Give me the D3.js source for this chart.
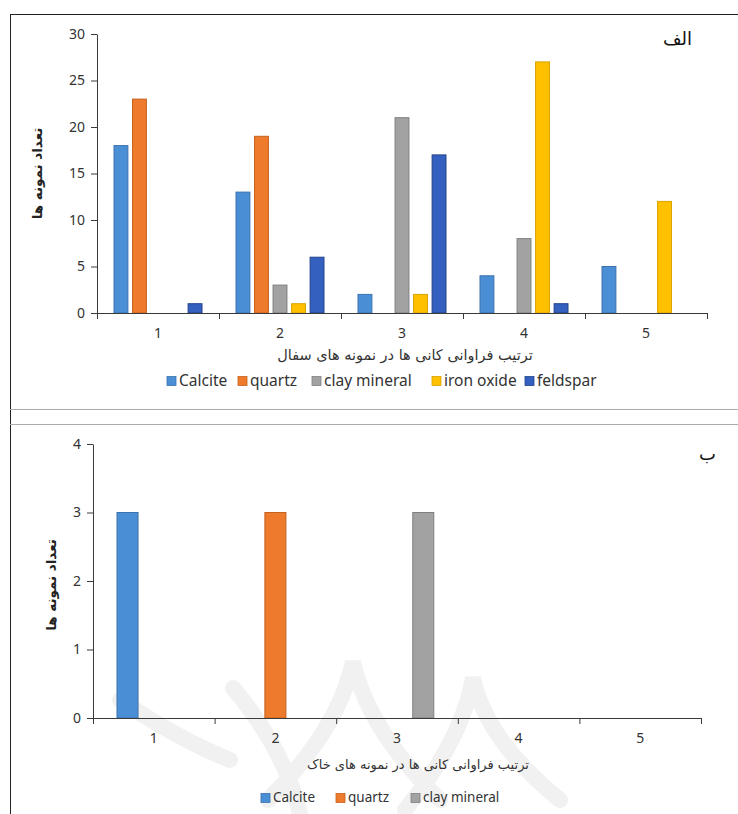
<!DOCTYPE html>
<html>
<head>
<meta charset="utf-8">
<script src="https://cdn.jsdelivr.net/npm/d3@7"></script>
<style>
  html, body { margin: 0; padding: 0; background: #fff; }
  svg { display: block; }
</style>
</head>
<body>
<svg id="chart" width="738" height="814"></svg>
<script>
// ---------- data ----------
const categories = ["1", "2", "3", "4", "5"];

// Panel الف (pottery samples)
const seriesTop = ["Calcite", "quartz", "clay mineral", "iron oxide", "feldspar"];
const calciteTop = [18, 13, 2, 4, 5];
const quartzTop = [23, 19, 0, 0, 0];
const clayTop = [0, 3, 21, 8, 0];
const ironTop = [0, 1, 2, 27, 12];
const feldsparTop = [1, 6, 17, 1, 0];
const yTicksTop = [0, 5, 10, 15, 20, 25, 30];

// Panel ب (soil samples)
const seriesBottom = ["Calcite", "quartz", "clay mineral"];
const calciteBottom = [3, 0, 0, 0, 0];
const quartzBottom = [0, 3, 0, 0, 0];
const clayBottom = [0, 0, 3, 0, 0];
const yTicksBottom = [0, 1, 2, 3, 4];

const colors = {
  "Calcite": "#4a8fd6",
  "quartz": "#ee7a2b",
  "clay mineral": "#a2a2a2",
  "iron oxide": "#ffc000",
  "feldspar": "#3460c0"
};
const strokes = {
  "Calcite": "#3a72ad",
  "quartz": "#c4621f",
  "clay mineral": "#7f7f7f",
  "iron oxide": "#d9a300",
  "feldspar": "#23438a"
};

const svg = d3.select("#chart");
const axisColor = "#3a3a3a";
const tickFont = "'Noto Sans', 'Open Sans', sans-serif";
const faFont = "'DejaVu Sans', 'Noto Sans', sans-serif";

// ---------- faint background watermark (decorative) ----------
const wm = svg.append("g").attr("fill", "none").attr("stroke", "#f1f1f1")
  .attr("stroke-width", 16).attr("stroke-linecap", "round");
[
  "M 268 800 Q 338 730 353 662 Q 368 730 440 800",
  "M 405 810 Q 462 740 473 678 Q 486 740 560 800",
  "M 233 688 Q 285 750 300 814",
  "M 120 700 Q 180 740 230 760"
].forEach(p => wm.append("path").attr("d", p));

// ---------- frames ----------
svg.append("line").attr("x1", 10).attr("x2", 738).attr("y1", 14.5).attr("y2", 14.5)
  .attr("stroke", "#222").attr("stroke-width", 1);
svg.append("line").attr("x1", 10.5).attr("x2", 10.5).attr("y1", 14).attr("y2", 814)
  .attr("stroke", "#222").attr("stroke-width", 1);
svg.append("line").attr("x1", 10).attr("x2", 738).attr("y1", 409.5).attr("y2", 409.5)
  .attr("stroke", "#aaa").attr("stroke-width", 1);
svg.append("line").attr("x1", 10).attr("x2", 738).attr("y1", 424.5).attr("y2", 424.5)
  .attr("stroke", "#aaa").attr("stroke-width", 1);

function drawPanel(cfg) {
  const g = svg.append("g");
  const x0 = d3.scaleBand().domain(categories).range([cfg.left, cfg.right]);
  const xLin = d3.scaleLinear().domain([0, categories.length]).range([cfg.left, cfg.right]);
  const x1 = d3.scaleBand().domain(cfg.series)
    .range([cfg.groupPad, x0.bandwidth() - cfg.groupPad]).paddingInner(cfg.barPad);
  const y = d3.scaleLinear().domain([0, cfg.yMax]).range([cfg.bottom, cfg.top]);

  // bars
  cfg.series.forEach((s, si) => {
    const vals = cfg.values[si];
    g.append("g").selectAll("rect")
      .data(categories.map((c, i) => ({ c, v: vals[i] })).filter(d => d.v > 0))
      .join("rect")
      .attr("x", d => x0(d.c) + x1(s))
      .attr("y", d => y(d.v))
      .attr("width", x1.bandwidth())
      .attr("height", d => y(0) - y(d.v))
      .attr("fill", colors[s])
      .attr("stroke", strokes[s])
      .attr("stroke-width", 1);
  });

  // y axis
  const yAxis = g.append("g").attr("transform", `translate(${cfg.left},0)`)
    .call(d3.axisLeft(y).tickValues(cfg.yTicks).tickFormat(d3.format("d"))
      .tickSize(6).tickSizeOuter(0).tickPadding(6));
  yAxis.select(".domain").attr("stroke", axisColor);
  yAxis.selectAll(".tick line").attr("stroke", axisColor);
  yAxis.selectAll("text").attr("fill", "#333").attr("font-family", tickFont).attr("font-size", 14);

  // x axis: ticks on category boundaries
  const xAxis = g.append("g").attr("transform", `translate(0,${cfg.bottom})`)
    .call(d3.axisBottom(xLin).ticks(categories.length).tickSize(6).tickSizeOuter(0).tickFormat(""));
  xAxis.select(".domain").attr("stroke", axisColor);
  xAxis.selectAll(".tick line").attr("stroke", axisColor);
  // category labels
  const xLab = g.append("g").attr("transform", `translate(0,${cfg.bottom})`)
    .call(d3.axisBottom(x0).tickSize(0).tickPadding(15));
  xLab.select(".domain").remove();
  xLab.selectAll("text").attr("fill", "#333").attr("font-family", tickFont).attr("font-size", 14);

  // y title
  g.append("text")
    .attr("transform", `translate(${cfg.yTitleX},${(cfg.top + cfg.bottom) / 2 + cfg.yTitleDy}) rotate(-90)`)
    .attr("text-anchor", "middle").attr("dominant-baseline", "middle")
    .attr("font-family", faFont).attr("font-size", 13.5).attr("font-weight", "bold")
    .attr("fill", "#222")
    .text(cfg.yTitle);

  // x title
  g.append("text")
    .attr("x", cfg.xTitleX).attr("y", cfg.xTitleY)
    .attr("text-anchor", "middle").attr("dominant-baseline", "middle")
    .attr("direction", "rtl")
    .attr("font-family", faFont).attr("font-size", cfg.xTitleSize)
    .attr("fill", "#333")
    .text(cfg.xTitle);

  // panel label
  g.append("text")
    .attr("x", cfg.labelX).attr("y", cfg.labelY)
    .attr("text-anchor", "end").attr("dominant-baseline", "middle")
    .attr("font-family", faFont).attr("font-size", cfg.labelSize)
    .attr("fill", "#111")
    .text(cfg.label);

  // legend
  const lg = g.append("g").attr("transform", `translate(0,${cfg.legendY})`);
  cfg.series.forEach((s, i) => {
    const lx = cfg.legendX[i];
    lg.append("rect").attr("x", lx).attr("y", -4.5).attr("width", 9).attr("height", 9)
      .attr("fill", colors[s]).attr("stroke", strokes[s]).attr("stroke-width", 0.8);
    lg.append("text").attr("x", lx + 12).attr("y", 0.5)
      .attr("dominant-baseline", "middle")
      .attr("font-family", tickFont).attr("font-size", cfg.legendSize).attr("fill", "#333")
      .text(s);
  });
}

drawPanel({
  left: 97, right: 707, top: 34, bottom: 313,
  yMax: 30, yTicks: yTicksTop,
  series: seriesTop,
  values: [calciteTop, quartzTop, clayTop, ironTop, feldsparTop],
  groupPad: 17, barPad: 0.25,
  yTitle: "تعداد نمونه ها", yTitleX: 38, yTitleDy: 0,
  xTitle: "ترتیب فراوانی کانی ها در نمونه های سفال", xTitleX: 405, xTitleY: 356, xTitleSize: 14.5,
  label: "الف", labelX: 692, labelY: 40, labelSize: 18,
  legendY: 381, legendX: [167, 238, 312, 432, 525], legendSize: 15.5
});

drawPanel({
  left: 93, right: 701, top: 444, bottom: 718,
  yMax: 4, yTicks: yTicksBottom,
  series: seriesBottom,
  values: [calciteBottom, quartzBottom, clayBottom],
  groupPad: 24, barPad: 0.2,
  yTitle: "تعداد نمونه ها", yTitleX: 52, yTitleDy: 4,
  xTitle: "ترتیب فراوانی کانی ها در نمونه های خاک", xTitleX: 418, xTitleY: 765, xTitleSize: 13,
  label: "ب", labelX: 716, labelY: 455, labelSize: 18,
  legendY: 798, legendX: [261, 336, 411], legendSize: 13.5
});
</script>
</body>
</html>
